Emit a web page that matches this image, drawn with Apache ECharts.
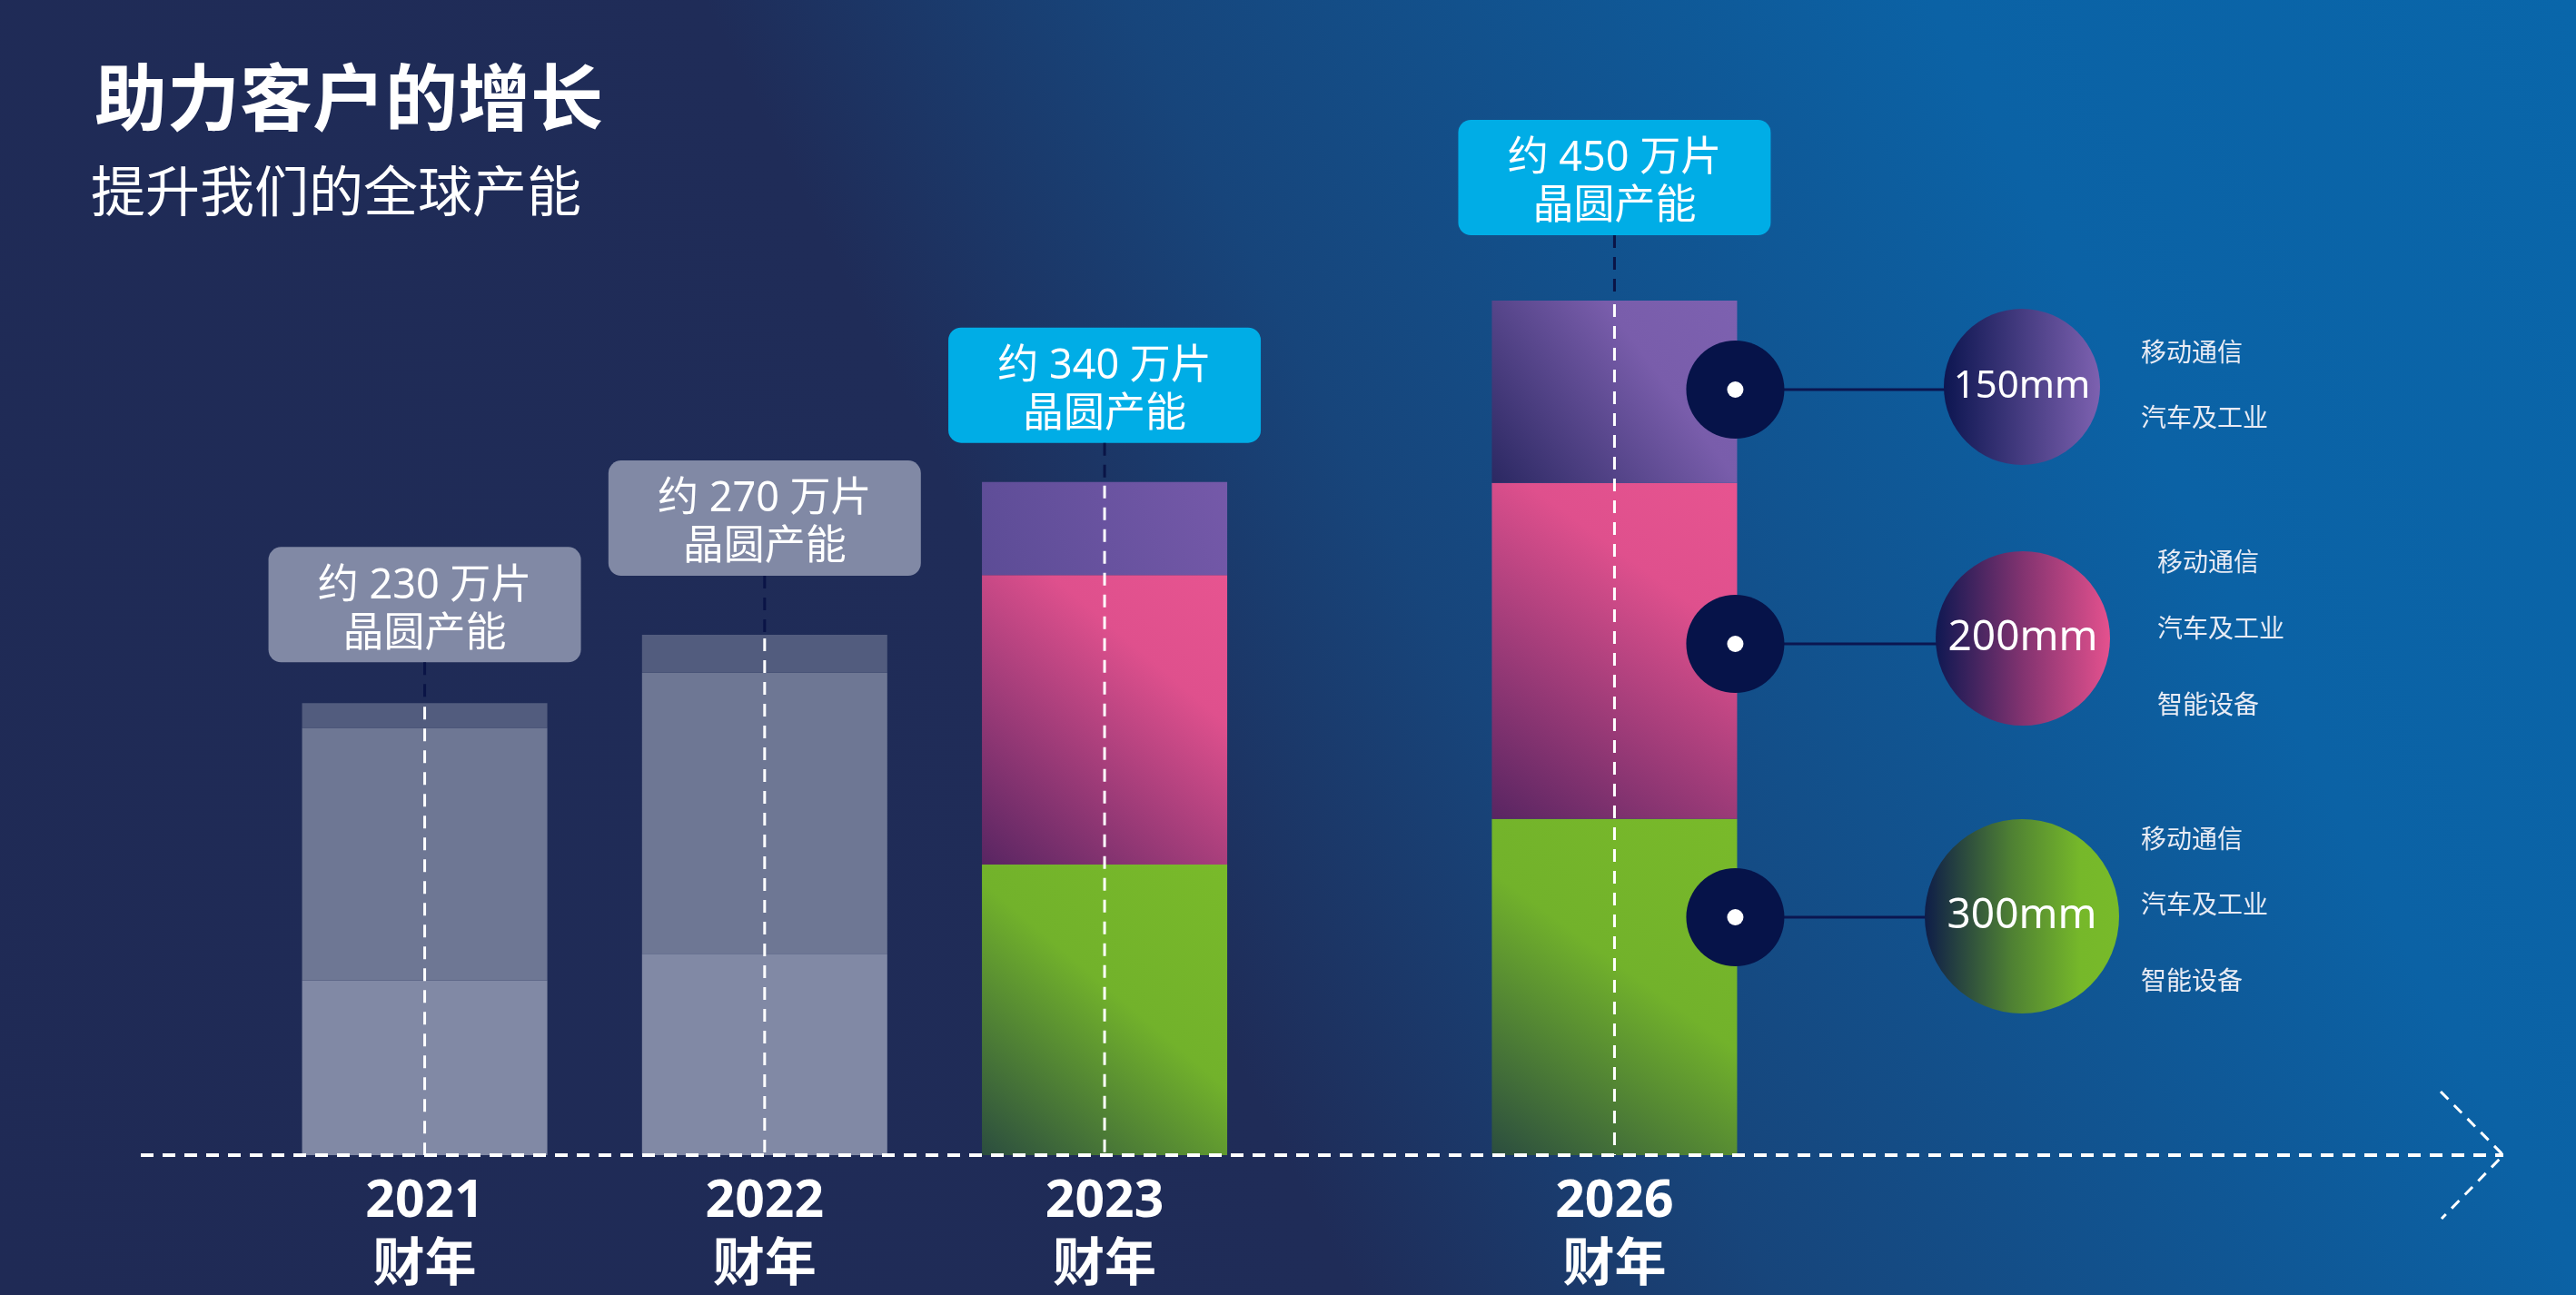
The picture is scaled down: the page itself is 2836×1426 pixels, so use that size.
<!DOCTYPE html>
<html>
<head>
<meta charset="utf-8">
<title>助力客户的增长</title>
<script src="https://cdn.jsdelivr.net/npm/echarts@6/dist/echarts.min.js"></script>
<style>
  html, body { margin: 0; padding: 0; background: #1f2a55; }
  #main { width: 2836px; height: 1426px; }
</style>
</head>
<body>
<div id="main"></div>
<script>
// 财年分类（空串是占位，让 2026 与 2023 之间留出更大的间距）
const fiscalYears = ['2021', '', '2022', '', '2023', '', '', '2026'];
// 各尺寸晶圆产能（万片），按柱高读出
const wafer300 = [92, null, 106, null, 153, null, null, 177];
const wafer200 = [133, null, 148, null, 152.5, null, null, 177];
const wafer150 = [13, null, 20, null, 49, null, null, 96];
const capacityText = ['约 230 万片', '', '约 270 万片', '', '约 340 万片', '', '', '约 450 万片'];
const highlightYears = ['2023', '2026'];
const sizeNames = ['150mm', '200mm', '300mm'];
const sizeUses = [
  ['移动通信', '汽车及工业'],
  ['移动通信', '汽车及工业', '智能设备'],
  ['移动通信', '汽车及工业', '智能设备']
];

// layout (px)
const labelLift = [45, 0, 65, 0, 43, 0, 0, 72];
const BAR_W = 270;
const FONT = "'Noto Sans', 'Noto Sans CJK SC', sans-serif";

const chart = echarts.init(document.getElementById('main'));
const LG = echarts.graphic.LinearGradient;

const isHl = (i) => highlightYears.includes(fiscalYears[i]);

const greenFill = () => new LG(1, 0, 0, 1, [
  { offset: 0, color: '#79ba2a' }, { offset: 0.45, color: '#72b22b' }, { offset: 1, color: '#2b4d3f' }
]);
const pinkFill = () => new LG(1, 0, 0, 1, [
  { offset: 0, color: '#e75490' }, { offset: 0.3, color: '#df508d' }, { offset: 1, color: '#582562' }
]);
const purpleFill = (i) => fiscalYears[i] === '2026'
  ? new LG(1, 0, 0, 1, [
      { offset: 0, color: '#7d61b0' }, { offset: 0.35, color: '#795dab' }, { offset: 1, color: '#2b2862' }
    ])
  : new LG(1, 0, 0, 1, [{ offset: 0, color: '#7559a9' }, { offset: 1, color: '#5c4c96' }]);

function buildData(values, gray, fill) {
  return values.map((v, i) => {
    if (v == null) return null;
    return { value: v, itemStyle: { color: isHl(i) ? fill(i) : gray } };
  });
}

const topData = buildData(wafer150, '#525c7e', purpleFill).map((d, i) => {
  if (!d) return d;
  d.label = {
    distance: labelLift[i],
    backgroundColor: isHl(i) ? '#00ade6' : '#8189a5'
  };
  return d;
});

const option = {
  animation: false,
  title: [
    {
      text: '助力客户的增长', left: 104, top: 74, padding: 0,
      textStyle: { fontSize: 80, fontWeight: 'bold', color: '#fff', fontFamily: FONT }
    },
    {
      text: '提升我们的全球产能', left: 100, top: 186, padding: 0,
      textStyle: { fontSize: 60, fontWeight: 'normal', color: '#fff', fontFamily: FONT }
    }
  ],
  grid: { left: 374, right: 965, top: 331, bottom: 154 },
  xAxis: {
    type: 'category',
    data: fiscalYears,
    axisLine: { show: false },
    axisTick: { show: false },
    axisLabel: {
      interval: 0,
      margin: 17,
      formatter: (v) => (v ? '{y|' + v + '}\n{c|财年}' : ''),
      rich: {
        y: { fontSize: 57, fontWeight: 'bold', color: '#fff', lineHeight: 70, fontFamily: FONT },
        c: { fontSize: 57, fontWeight: 'bold', color: '#fff', lineHeight: 70, fontFamily: FONT }
      }
    }
  },
  yAxis: { type: 'value', min: 0, max: 450, show: false, splitLine: { show: false } },
  series: [
    {
      name: '300mm', type: 'bar', stack: 'cap', barWidth: BAR_W, clip: false,
      data: buildData(wafer300, '#8189a5', greenFill)
    },
    {
      name: '200mm', type: 'bar', stack: 'cap', barWidth: BAR_W, clip: false,
      data: buildData(wafer200, '#6e7794', pinkFill)
    },
    {
      name: '150mm', type: 'bar', stack: 'cap', barWidth: BAR_W, clip: false,
      data: topData,
      label: {
        show: true,
        position: 'top',
        formatter: (p) => capacityText[p.dataIndex] + '\n晶圆产能',
        color: '#fff',
        fontSize: 45,
        lineHeight: 53,
        fontFamily: FONT,
        width: 312,
        align: 'center',
        padding: [17, 16, 4, 16],
        borderRadius: 14
      }
    }
  ]
};

chart.setOption(option);

// ---- overlay: background, dashed guides, axis arrow, size legend ----
const px = (i, v) => chart.convertToPixel({ xAxisIndex: 0, yAxisIndex: 0 }, [i, v]);
const g = [];

g.push({
  type: 'rect', z: -100, silent: true,
  shape: { x: 0, y: 0, width: 2836, height: 1426 },
  style: {
    fill: new LG(0, 1, 1, 0, [
      { offset: 0, color: '#1f2a55' },
      { offset: 0.42, color: '#1f2c58' },
      { offset: 0.55, color: '#17457b' },
      { offset: 0.8, color: '#0b62a5' },
      { offset: 1, color: '#0966aa' }
    ])
  }
});

const dash = [14, 10];
let baseY = 0;
let lastRight = 0;
fiscalYears.forEach((y, i) => {
  if (!y) return;
  const total = wafer300[i] + wafer200[i] + wafer150[i];
  const b = px(i, 0);
  const t = px(i, total);
  baseY = b[1];
  lastRight = b[0] + BAR_W / 2;
  g.push({
    type: 'line', z: 10, silent: true,
    shape: { x1: t[0], y1: t[1] - labelLift[i], x2: t[0], y2: t[1] },
    style: { stroke: '#0a1446', lineWidth: 3, lineDash: dash }
  });
  g.push({
    type: 'line', z: 10, silent: true,
    shape: { x1: t[0], y1: t[1] + 4, x2: t[0], y2: b[1] },
    style: { stroke: '#ffffff', lineWidth: 3, lineDash: dash }
  });
});

// baseline with open arrow
const tipX = 2756;
g.push({
  type: 'line', z: 10, silent: true,
  shape: { x1: 155, y1: baseY, x2: tipX, y2: baseY },
  style: { stroke: '#ffffff', lineWidth: 4, lineDash: dash }
});
g.push({
  type: 'polyline', z: 10, silent: true,
  shape: { points: [[tipX - 69, baseY - 70], [tipX, baseY], [tipX - 68, baseY + 70]] },
  style: { stroke: '#ffffff', lineWidth: 3, lineDash: [12, 9], fill: null }
});

// size legend on the right
const markerY = [429, 709, 1010];
const bubble = [
  { cx: 2226, cy: 426, r: 86, fs: 42 },
  { cx: 2227, cy: 703, r: 96, fs: 46 },
  { cx: 2226, cy: 1009, r: 107, fs: 46 }
];
const bubbleFill = [
  new LG(0, 0, 1, 0, [{ offset: 0, color: '#0d1651' }, { offset: 1, color: '#7d61b0' }]),
  new LG(0, 0, 1, 0, [{ offset: 0, color: '#0f1852' }, { offset: 0.5, color: '#823370' }, { offset: 1, color: '#e4518e' }]),
  new LG(0, 0, 1, 0, [{ offset: 0, color: '#0e1d48' }, { offset: 0.45, color: '#4f8133' }, { offset: 0.8, color: '#76b82a' }, { offset: 1, color: '#78ba2a' }])
];
const usesPos = [
  { x: 2357, ys: [390, 462] },
  { x: 2375, ys: [621, 694, 778] },
  { x: 2357, ys: [926, 998, 1082] }
];

sizeNames.forEach((name, k) => {
  const my = markerY[k];
  const bb = bubble[k];
  g.push({
    type: 'line', z: 9, silent: true,
    shape: { x1: lastRight, y1: my, x2: bb.cx, y2: my },
    style: { stroke: '#0b1650', lineWidth: 3 }
  });
  g.push({
    type: 'circle', z: 11, silent: true,
    shape: { cx: lastRight - 2, cy: my, r: 54 },
    style: { fill: '#061349' }
  });
  g.push({
    type: 'circle', z: 12, silent: true,
    shape: { cx: lastRight - 2, cy: my, r: 9 },
    style: { fill: '#ffffff' }
  });
  g.push({
    type: 'circle', z: 11, silent: true,
    shape: { cx: bb.cx, cy: bb.cy, r: bb.r },
    style: { fill: bubbleFill[k] }
  });
  g.push({
    type: 'text', z: 12, silent: true,
    x: bb.cx, y: bb.cy,
    style: {
      text: name, fill: '#ffffff', font: 'normal ' + bb.fs + 'px ' + FONT,
      textAlign: 'center', textVerticalAlign: 'middle'
    }
  });
  sizeUses[k].forEach((u, j) => {
    g.push({
      type: 'text', z: 12, silent: true,
      x: usesPos[k].x, y: usesPos[k].ys[j],
      style: {
        text: u, fill: '#e8ebf4', font: 'normal 28px ' + FONT,
        textAlign: 'left', textVerticalAlign: 'middle'
      }
    });
  });
});

chart.setOption({ graphic: g });
</script>
</body>
</html>
